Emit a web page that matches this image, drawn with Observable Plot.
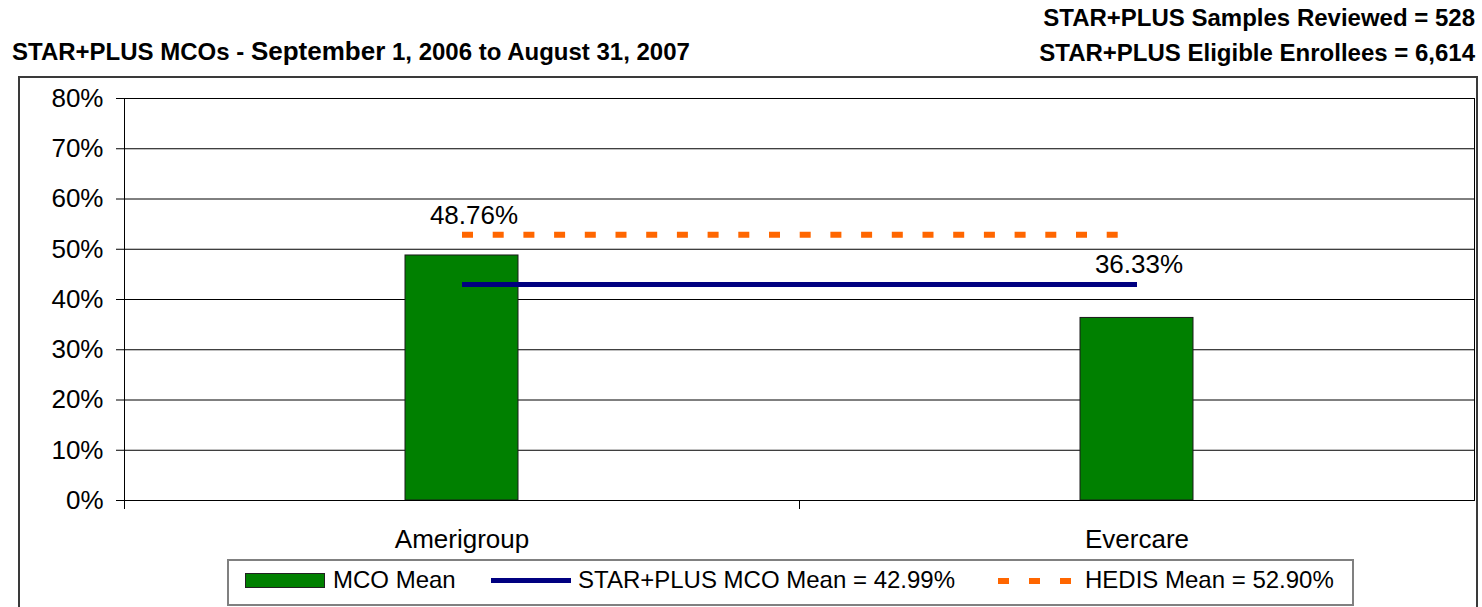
<!DOCTYPE html>
<html><head><meta charset="utf-8">
<script src="https://cdn.jsdelivr.net/npm/d3@7"></script>
<script src="https://cdn.jsdelivr.net/npm/@observablehq/plot@0.6"></script>
<style>
html,body{margin:0;padding:0;background:#fff;}
#root{position:relative;width:1482px;height:607px;overflow:hidden;font-family:"Liberation Sans",Arial,sans-serif;color:#000;}
.hdr{position:absolute;font-weight:bold;font-size:24px;line-height:24px;white-space:nowrap;}
#frame{position:absolute;left:18px;top:76px;width:1460px;height:600px;border:2px solid #3a3a3a;box-sizing:border-box;}
#chart{position:absolute;left:0;top:76px;}
#legend{position:absolute;left:227px;top:559px;width:1127px;height:47px;border:2px solid #808080;box-sizing:border-box;background:#fff;font-size:24px;line-height:24px;}
#legend .it{position:absolute;white-space:nowrap;}
</style>
</head><body>
<div id="root">
  <div class="hdr" id="title" style="left:12px;top:39px;"></div>
  <div class="hdr" id="sub1" style="right:7px;top:6px;"></div>
  <div class="hdr" id="sub2" style="right:7px;top:41px;"></div>
  <div id="frame"></div>
  <div id="chart"></div>
  <div id="legend"></div>
</div>
<script>
// ---- data ----
const categories = ["Amerigroup", "Evercare"];
const mcoMeans = [0.4876, 0.3633];
const starPlusMean = 0.4299;
const hedisMean = 0.5290;
const yTicks = [0, 0.1, 0.2, 0.3, 0.4, 0.5, 0.6, 0.7, 0.8];
const titleParts = ["STAR+PLUS MCOs - ", "September", " 1, 2006 to August 31, 2007"];
const headerLines = ["STAR+PLUS Samples Reviewed = 528", "STAR+PLUS Eligible Enrollees = 6,614"];
const legendLabels = ["MCO Mean", "STAR+PLUS MCO Mean = 42.99%", "HEDIS Mean = 52.90%"];

// ---- headers ----
document.getElementById("title").innerHTML =
  titleParts[0] + '<span style="font-size:26px">' + titleParts[1] + '</span>' + titleParts[2];
document.getElementById("sub1").textContent = headerLines[0];
document.getElementById("sub2").textContent = headerLines[1];

// ---- chart ----
const rows = categories.map((c, i) => ({cat: c, val: mcoMeans[i]}));
const meanRows = categories.map(c => ({cat: c, val: starPlusMean}));
const hedisRows = categories.map(c => ({cat: c, val: hedisMean}));

const W = 1482, H = 482, ML = 124, MR = 8, MT = 22, MB = 58;
const step = (W - ML - MR) / categories.length;
const barW = 113;
const inset = (step - barW) / 2;
const pct = d3.format(".0%");
const pct2 = d3.format(".2%");

const chart = Plot.plot({
  width: W, height: H,
  marginLeft: ML, marginRight: MR, marginTop: MT, marginBottom: MB,
  style: {background: "transparent", fontFamily: "'Liberation Sans', Arial, sans-serif", fontSize: "26px", color: "#000", overflow: "visible"},
  x: {type: "band", domain: categories, padding: 0, label: null},
  y: {domain: [0, 0.8], label: null},
  marks: [
    Plot.ruleY(yTicks, {stroke: "#000", strokeWidth: 1}),
    Plot.axisY({ticks: yTicks, tickFormat: pct, tickSize: 8, tickPadding: 13, stroke: "#000", fontSize: 26, label: null}),
    Plot.axisX({tickSize: 0, tickPadding: 29, fontSize: 26, label: null}),
    Plot.ruleX(categories, {x: d => d, dx: -step / 2, y1: 0, y2: 0, insetBottom: -9, stroke: "#000", strokeWidth: 1}),
    Plot.barY(rows, {x: "cat", y: "val", fill: "#008000", stroke: "#1a1a1a", strokeWidth: 1, insetLeft: inset, insetRight: inset}),
    Plot.line(hedisRows, {x: "cat", y: "val", stroke: "#FF6600", strokeWidth: 6, strokeDasharray: "11,19.7", strokeLinecap: "butt"}),
    Plot.line(meanRows, {x: "cat", y: "val", stroke: "#000080", strokeWidth: 5, strokeLinecap: "butt"}),
    Plot.text(rows.filter(d => d.cat === categories[0]), {x: "cat", y: "val", text: d => pct2(d.val), dx: 12, dy: -40, fontSize: 26, fill: "#000"}),
    Plot.text(rows.filter(d => d.cat === categories[1]), {x: "cat", y: "val", text: d => pct2(d.val), dx: 2, dy: -53, fontSize: 26, fill: "#000"}),
    Plot.frame({stroke: "#000", strokeWidth: 1})
  ]
});
document.getElementById("chart").appendChild(chart);

// ---- legend ----
const lg = document.getElementById("legend");
function add(html, left, top, style) {
  const d = document.createElement("div");
  d.className = "it";
  d.style.left = left + "px"; d.style.top = top + "px";
  if (style) d.style.cssText += style;
  d.innerHTML = html;
  lg.appendChild(d);
}
add("", 16, 12, "width:80px;height:15px;background:#008000;border:1px solid #222;box-sizing:border-box;");
add(legendLabels[0], 104, 7);
add("", 262, 17, "width:80px;height:5px;background:#000080;");
add(legendLabels[1], 349, 7);
[0, 1, 2].forEach(k => add("", 769 + k * 31, 17, "width:11px;height:6px;background:#FF6600;"));
add(legendLabels[2], 856, 7);
</script>
</body></html>
